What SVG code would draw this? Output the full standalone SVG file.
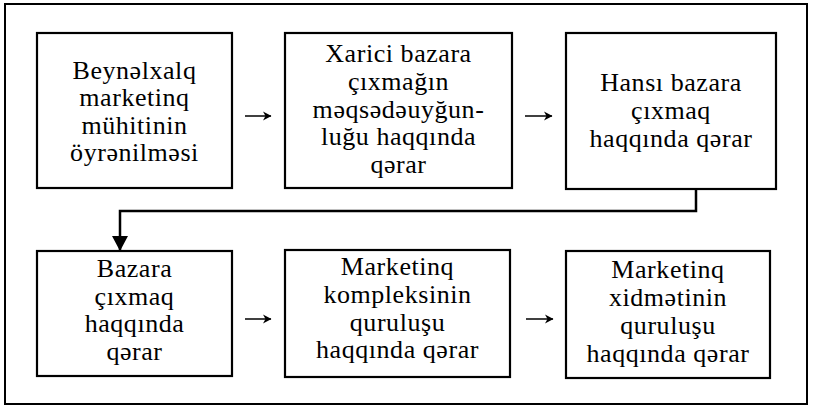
<svg xmlns="http://www.w3.org/2000/svg" width="814" height="412" viewBox="0 0 814 412">
<style>
.frame{fill:none;stroke:#000;stroke-width:2}
.box{fill:#fff;stroke:#000;stroke-width:2.2}
.t{font-family:"Liberation Serif","Times New Roman",serif;font-size:26px;letter-spacing:0.55px;fill:#000;text-anchor:middle}
.flow{fill:none;stroke:#000;stroke-width:2.5}
.ar{fill:none;stroke:#000;stroke-width:1.5}
</style>
<defs>
<marker id="big" markerWidth="16" markerHeight="16" viewBox="0 0 16 16" refX="15" refY="8" orient="auto" markerUnits="userSpaceOnUse">
<path d="M0,0 L15,8 L0,16 Z" fill="#000"/>
</marker>
<marker id="sm" markerWidth="10" markerHeight="10" viewBox="0 0 10 10" refX="9" refY="5" orient="auto" markerUnits="userSpaceOnUse">
<path d="M1,0.5 L9.5,5 L1,9.5 L3.5,5 Z" fill="#000"/>
</marker>
</defs>
<rect width="814" height="412" fill="#fff"/>
<rect class="frame" x="5" y="4" width="802" height="400"/>

<g id="n1">
<rect class="box" x="37" y="33" width="195" height="155"/>
<text class="t"><tspan x="134.5" y="78.5">Beynəlxalq</tspan><tspan x="134.5" y="106">marketinq</tspan><tspan x="134.5" y="133.5">mühitinin</tspan><tspan x="134.5" y="161">öyrənilməsi</tspan></text>
</g>
<g id="n2">
<rect class="box" x="285" y="33" width="227" height="155"/>
<text class="t"><tspan x="398.5" y="62">Xarici bazara</tspan><tspan x="398.5" y="90">çıxmağın</tspan><tspan x="398.5" y="117.5">məqsədəuyğun-</tspan><tspan x="398.5" y="145">luğu haqqında</tspan><tspan x="398.5" y="173">qərar</tspan></text>
</g>
<g id="n3">
<rect class="box" x="566" y="33" width="210" height="156"/>
<text class="t"><tspan x="671" y="91">Hansı bazara</tspan><tspan x="671" y="119">çıxmaq</tspan><tspan x="671" y="147">haqqında qərar</tspan></text>
</g>
<g id="n4">
<rect class="box" x="37" y="251" width="195" height="125"/>
<text class="t"><tspan x="134.5" y="277">Bazara</tspan><tspan x="134.5" y="304.5">çıxmaq</tspan><tspan x="134.5" y="332">haqqında</tspan><tspan x="134.5" y="360">qərar</tspan></text>
</g>
<g id="n5">
<rect class="box" x="285" y="250" width="225" height="127"/>
<text class="t"><tspan x="397.5" y="275">Marketinq</tspan><tspan x="397.5" y="303">kompleksinin</tspan><tspan x="397.5" y="330.5">quruluşu</tspan><tspan x="397.5" y="358">haqqında qərar</tspan></text>
</g>
<g id="n6">
<rect class="box" x="566" y="251" width="204" height="127"/>
<text class="t"><tspan x="668" y="278">Marketinq</tspan><tspan x="668" y="306">xidmətinin</tspan><tspan x="668" y="334">quruluşu</tspan><tspan x="668" y="362">haqqında qərar</tspan></text>
</g>

<g id="connectors">
<path class="flow" d="M696,189 V211 H120 V251" marker-end="url(#big)"/>
<path class="ar" d="M245,116 H271" marker-end="url(#sm)"/>
<path class="ar" d="M525,116 H552" marker-end="url(#sm)"/>
<path class="ar" d="M245,319 H271" marker-end="url(#sm)"/>
<path class="ar" d="M526,319 H553" marker-end="url(#sm)"/>
</g>
</svg>
